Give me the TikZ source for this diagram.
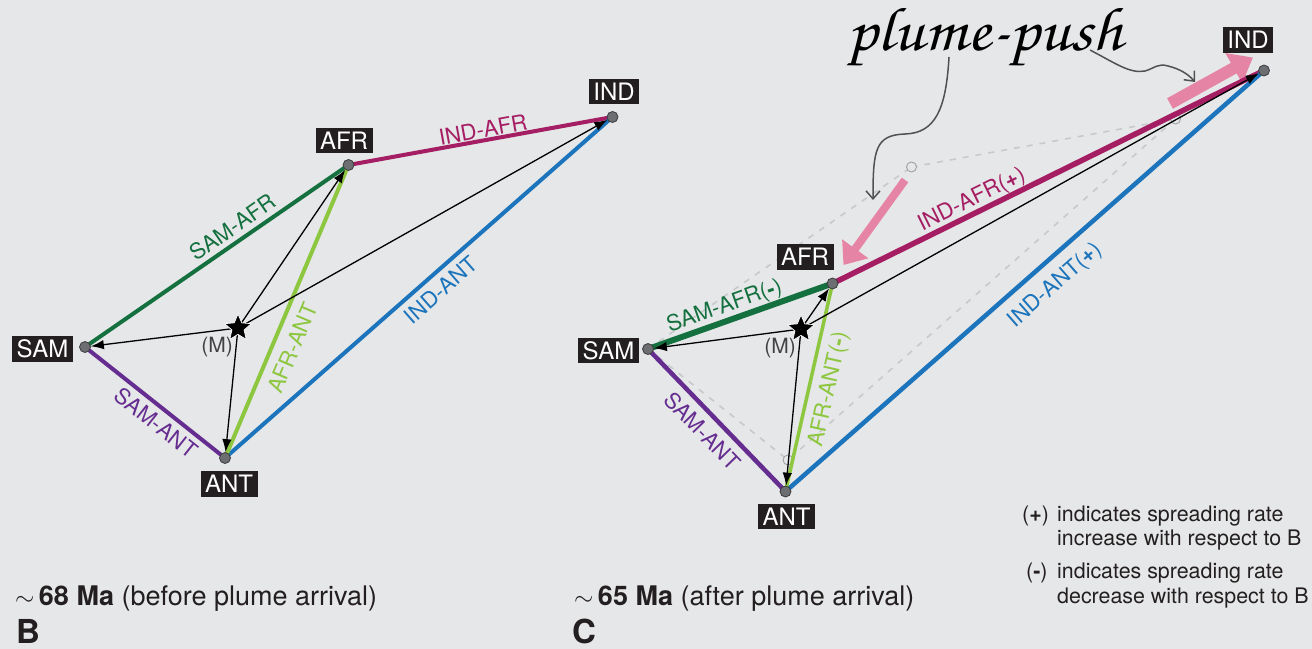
\documentclass[tikz,border=0pt]{standalone}
\usepackage[T1]{fontenc}
\usepackage{fontspec}
\setmainfont{TeX Gyre Heros}
\usetikzlibrary{arrows.meta,shapes.geometric}
\definecolor{bgc}{RGB}{230,231,232}
\definecolor{platebg}{RGB}{35,31,32}
\definecolor{dotfill}{RGB}{109,110,113}
\definecolor{dotedge}{RGB}{60,60,62}
\definecolor{ghostc}{RGB}{200,201,203}
\definecolor{ghostedge}{RGB}{160,161,164}
\definecolor{cdkgreen}{RGB}{20,112,62}
\definecolor{cmagenta}{RGB}{165,30,100}
\definecolor{clime}{RGB}{141,198,63}
\definecolor{cblue}{RGB}{28,117,188}
\definecolor{cpurple}{RGB}{102,45,145}
\definecolor{cpink}{RGB}{230,132,166}
\definecolor{ctext}{RGB}{35,31,32}
\definecolor{cmtext}{RGB}{65,64,66}
\definecolor{carrowgray}{RGB}{80,81,83}
\newcommand\myfs[1]{\fontsize{#1bp}{#1bp}\selectfont}
\newcommand\handfont{\usefont{T1}{pzc}{mb}{it}}
\newcommand\aprx{$\sim$\,}
\begin{document}
\begin{tikzpicture}[x=1bp,y=-1bp,
 plate/.style={fill=platebg,text=white,font=\myfs{24},inner xsep=4.5bp,inner ysep=4bp,text height=17.2bp,text depth=0bp},
 dot/.style={circle,fill=dotfill,draw=dotedge,line width=0.8bp,minimum size=11bp,inner sep=0pt},
 ghostdot/.style={circle,fill=bgc,draw=ghostedge,line width=0.9bp,minimum size=10bp,inner sep=0pt},
 mstar/.style={star,star points=5,star point ratio=2.2,fill=black,draw=white,line width=0.7bp,minimum size=28bp,inner sep=0pt},
 plateline/.style={line width=#1},
 marrow/.style={line width=1.3bp,-{Latex[length=13bp,width=9.5bp]}},
 ghostline/.style={draw=ghostc,line width=1.6bp,dash pattern=on 6bp off 7bp},
 elab/.style={font=\myfs{22},inner sep=0pt,text height=15.8bp,text depth=0bp},
 mlab/.style={font=\myfs{21},text=cmtext,inner sep=0pt},
 pinkarrow/.style={draw=cpink,line width=#1},
 handarrow/.style={draw=carrowgray,line width=1.5bp,-{Straight Barb[length=8bp,width=14bp]}},
 legend/.style={font=\myfs{21.4},text=ctext,inner sep=0pt,anchor=base west},
 caption/.style={font=\myfs{27},text=ctext,inner sep=0pt,anchor=base west},
 panel/.style={font=\myfs{33}\bfseries,text=ctext,inner sep=0pt,anchor=base west}
]
\fill[bgc] (0,0) rectangle (1312,649);
\useasboundingbox (0,0) rectangle (1312,649);

% ---------------- panel B ----------------
\coordinate (bSAMc) at (85,347);
\coordinate (bAFRc) at (348.5,165);
\coordinate (bINDc) at (612.5,117);
\coordinate (bANTc) at (225,458);
\coordinate (bMc) at (238,328);

\draw[plateline=4bp,cdkgreen] (bSAMc) -- (bAFRc);
\draw[plateline=4bp,cmagenta] (bAFRc) -- (bINDc);
\draw[plateline=4bp,cblue] (bANTc) -- (bINDc);
\draw[plateline=4bp,clime] (bANTc) -- (bAFRc);
\draw[plateline=4bp,cpurple] (bSAMc) -- (bANTc);

\node[dot] (bSAM) at (bSAMc) {};
\node[dot] (bAFR) at (bAFRc) {};
\node[dot] (bIND) at (bINDc) {};
\node[dot] (bANT) at (bANTc) {};

\draw[marrow] (bMc) -- (bSAM);
\draw[marrow] (bMc) -- (bAFR);
\draw[marrow] (bMc) -- (bIND);
\draw[marrow] (bMc) -- (bANT);
\node[mstar] (bM) at (bMc) {};
\node[mlab] (bMl) at (217,347) {(M)};

\node[plate] (bSAMl) at (42.5,349) {SAM};
\node[plate] (bAFRl) at (344,140.5) {AFR};
\node[plate] (bINDl) at (614,91.5) {IND};
\node[plate] (bANTl) at (229,484) {ANT};

\node[elab,text=cmagenta,rotate=10.3] (bl1) at (483,129.5) {IND-AFR};
\node[elab,text=cdkgreen,rotate=34.6] (bl2) at (232.5,227.3) {SAM-AFR};
\node[elab,text=clime,rotate=67.1] (bl3) at (292.5,348) {AFR-ANT};
\node[elab,text=cblue,rotate=41.3] (bl4) at (441,290) {IND-ANT};
\node[elab,text=cpurple,rotate=-38.4] (bl5) at (156,423) {SAM-ANT};

\node[caption] (capB) at (15,605) {\aprx\textbf{68 Ma} (before plume arrival)};
\node[panel] (lblB) at (16,643) {B};

% ---------------- panel C ----------------
\coordinate (cSAMc) at (648,349);
\coordinate (cAFRc) at (832.5,283.5);
\coordinate (cINDc) at (1264,70.5);
\coordinate (cANTc) at (785.5,491.5);
\coordinate (cMc) at (801,329);
\coordinate (gAFRc) at (911.5,167);
\coordinate (gINDc) at (1175.5,119);
\coordinate (gANTc) at (788,460);

\draw[ghostline] (cSAMc) -- (gAFRc);
\draw[ghostline] (gAFRc) -- (gINDc);
\draw[ghostline] (gINDc) -- (gANTc);
\draw[ghostline] (cSAMc) -- (gANTc);
\node[ghostdot] (gAFR) at (gAFRc) {};
\node[ghostdot] (gIND) at (gINDc) {};
\node[ghostdot] (gANT) at (gANTc) {};

\coordinate (pk1s) at (905,180);
\coordinate (pk1e) at (843.5,265);
\coordinate (pk2s) at (1170,103.5);
\coordinate (pk2e) at (1253,57.5);
\draw[pinkarrow=8bp,-{Triangle[length=20bp,width=31bp]}] (pk1s) -- (pk1e);
\draw[pinkarrow=12bp,-{Triangle[length=22bp,width=33bp]}] (pk2s) -- (pk2e);

\draw[plateline=6bp,cdkgreen] (cSAMc) -- (cAFRc);
\draw[plateline=5.5bp,cmagenta] (cAFRc) -- (cINDc);
\draw[plateline=4.5bp,cblue] (cANTc) -- (cINDc);
\draw[plateline=3.5bp,clime] (cANTc) -- (cAFRc);
\draw[plateline=4.5bp,cpurple] (cSAMc) -- (cANTc);

\node[dot] (cSAM) at (cSAMc) {};
\node[dot] (cAFR) at (cAFRc) {};
\node[dot] (cIND) at (cINDc) {};
\node[dot] (cANT) at (cANTc) {};

\draw[marrow] (cMc) -- (cSAM);
\draw[marrow] (cMc) -- (cAFR);
\draw[marrow] (cMc) -- (cIND);
\draw[marrow] (cMc) -- (cANT);
\node[mstar] (cM) at (cMc) {};
\node[mlab] (cMl) at (780,348) {(M)};

\node[plate] (cSAMl) at (608.5,350.5) {SAM};
\node[plate] (cAFRl) at (805,257) {AFR};
\node[plate] (cINDl) at (1248,40) {IND};
\node[plate] (cANTl) at (786.5,516.5) {ANT};

\node[elab,text=cmagenta,rotate=26.3] (cl1) at (971,198.3) {IND-AFR(\textbf{+})};
\node[elab,text=cdkgreen,rotate=19.6] (cl2) at (724,305) {SAM-AFR(\textbf{-})};
\node[elab,text=clime,rotate=77.3] (cl3) at (827,389) {AFR-ANT(\textbf{-})};
\node[elab,text=cblue,rotate=41.3] (cl4) at (1054,284) {IND-ANT(\textbf{+})};
\node[elab,text=cpurple,rotate=-46] (cl5) at (702.5,431) {SAM-ANT};

% plume-push annotation
\node[font=\handfont\myfs{62},text=black,inner sep=0pt] (pp) at (985,38) {\scalebox{1.1}[1]{plume-push}};
\coordinate (h1s) at (949,57);
\coordinate (h1e) at (873,200);
\coordinate (h2s) at (1090,50);
\coordinate (h2e) at (1195,82);
\draw[handarrow] (h1s) .. controls (946,110) and (935,133) .. (905,134) .. controls (875,135) and (873,150) .. (h1e);
\draw[handarrow] (h2s) .. controls (1115,63) and (1130,74) .. (1145,71) .. controls (1155,68) and (1158,63) .. (1168,66) .. controls (1180,69) and (1188,74) .. (h2e);

\node[caption] (capC) at (574,605) {\aprx\textbf{65 Ma} (after plume arrival)};
\node[panel] (lblC) at (572,643) {C};

% legend
\node[legend] (lg1a) at (1022,521.5) {(\textbf{+})};
\node[legend] (lg1b) at (1057,521.5) {indicates spreading rate};
\node[legend] (lg1c) at (1057,545.7) {increase with respect to B};
\node[legend] (lg2a) at (1026,578.3) {(\textbf{-})};
\node[legend] (lg2b) at (1057,578.3) {indicates spreading rate};
\node[legend] (lg2c) at (1057,603.3) {decrease with respect to B};
\end{tikzpicture}
\end{document}
